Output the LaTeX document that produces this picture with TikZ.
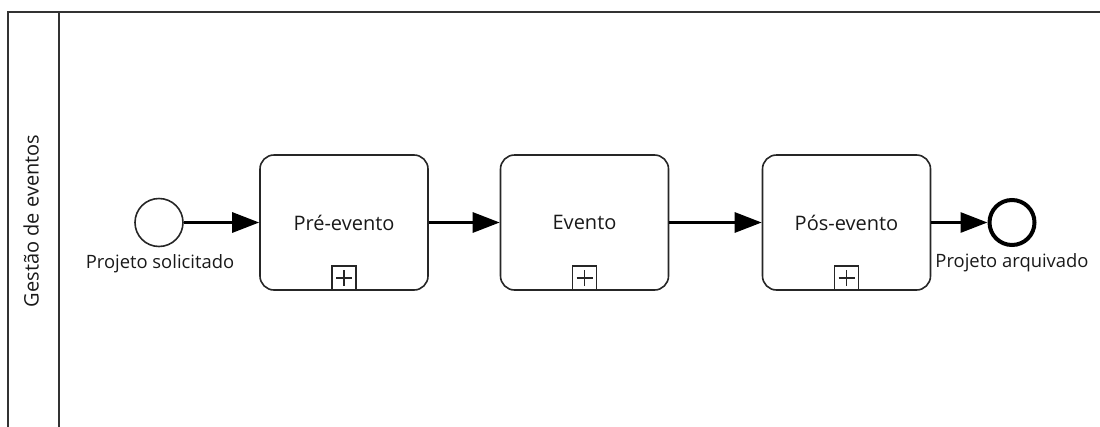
\documentclass[tikz,border=0pt]{standalone}
\usepackage{fontspec}
\setmainfont{Open Sans}
\usetikzlibrary{arrows.meta,positioning}

\begin{document}
\begin{tikzpicture}[x=1pt,y=-1pt,
    task/.style={rectangle,draw=black!85,line width=1.6pt,rounded corners=14pt,
        minimum width=168pt,minimum height=135pt,font=\fontsize{20}{24}\selectfont,text=black!90,inner sep=0},
    startev/.style={circle,draw=black!85,line width=1.6pt,minimum size=48pt,inner sep=0},
    endev/.style={circle,draw=black,line width=4pt,minimum size=45pt,inner sep=0},
    evlabel/.style={font=\fontsize{18.4}{22}\selectfont,text=black!90,inner sep=0},
    subproc/.style={rectangle,draw=black!85,line width=1.6pt,minimum size=24pt,inner sep=0,
        path picture={\draw[line width=1.8pt,black!85] ([xshift=-8pt]path picture bounding box.center) -- ([xshift=8pt]path picture bounding box.center)
            ([yshift=-8pt]path picture bounding box.center) -- ([yshift=8pt]path picture bounding box.center);}},
    flow/.style={line width=3pt,black,-{Triangle[length=27pt,width=20pt]}}]
    \useasboundingbox (0,0) rectangle (1100,426);
    % pool and lane
    \draw[line width=2pt,black!80] (1104,12) -- (8,12) -- (8,430);
    \draw[line width=2pt,black!80] (59,12) -- (59,430);
    \node[rotate=90,font=\fontsize{20}{24}\selectfont,text=black!90] (lane) at (31,221) {Gestão de eventos};
    % events
    \node[startev] (start) at (159,222.5) {};
    \node[evlabel] (startlbl) at (160,264) {Projeto solicitado};
    \node[endev] (end) at (1012,222.5) {};
    \node[evlabel] (endlbl) at (1012,263) {Projeto arquivado};
    % tasks
    \foreach \name/\x/\txt in {pre/344/Pré-evento,evt/584.5/Evento,pos/846.5/Pós-evento} {
        \node[task] (\name) at (\x,222.5) {\txt};
        \node[subproc,anchor=south] (\name sub) at (\name.south) {};
    }
    % flows
    \draw[flow] (start) -- (pre);
    \draw[flow] (pre) -- (evt);
    \draw[flow] (evt) -- (pos);
    \draw[flow] (pos) -- (end);
\end{tikzpicture}
\end{document}
